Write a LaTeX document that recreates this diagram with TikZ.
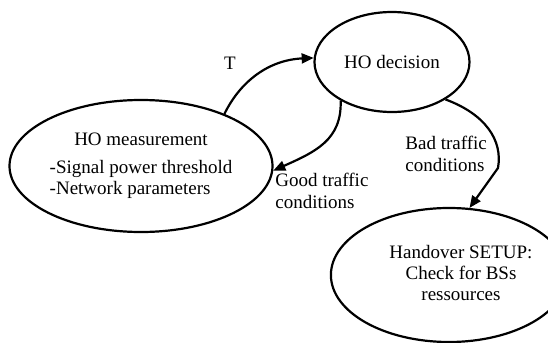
\documentclass[tikz,border=0pt]{standalone}
\usepackage{fontspec}
\setmainfont{Liberation Serif}
\usetikzlibrary{shapes.geometric,arrows.meta}
\begin{document}
\begin{tikzpicture}[x=0.5pt,y=-0.5pt,
  stateell/.style={ellipse,draw,line width=1.1pt,inner sep=0pt,
    font=\fontsize{9.5}{10.5}\selectfont,align=center},
  flow/.style={line width=1.1pt,-{Triangle[length=6pt,width=5pt]}},
  lbl/.style={inner sep=0pt,font=\fontsize{9.5}{11}\selectfont,align=left}]
\useasboundingbox (0,0) rectangle (548,343);
\node[stateell,minimum width=155*0.5pt,minimum height=100*0.5pt] (dec) at (392,62) {HO decision};
\node[stateell,minimum width=263*0.5pt,minimum height=132*0.5pt] (meas) at (141,166)
  {\begin{tabular}{@{}l@{}}\multicolumn{1}{@{}c@{}}{HO measurement}\\[3.5pt]
  -Signal power threshold\\-Network parameters\end{tabular}};
\node[stateell,minimum width=194*0.5pt,minimum height=134*0.5pt] (setup) at (449,275)
  {\hspace*{12pt}\begin{tabular}{@{}c@{}}Handover SETUP:\\Check for BSs\\ressources\end{tabular}};
\draw[flow] (meas.32) .. controls (240,82) and (268,60) .. (dec.177);
\draw[flow] (dec.-143) .. controls (342,140) and (315,152) .. (meas.-2);
\draw[flow] (dec.-35) .. controls (485,114) and (503,140) .. (498,168) -- (setup.73);
\node[lbl] (tl) at (230,63) {T};
\node[lbl,anchor=west] (gl) at (275,191) {Good traffic\\conditions};
\node[lbl,anchor=west] (bl) at (405,154) {Bad traffic\\conditions};
\end{tikzpicture}
\end{document}
